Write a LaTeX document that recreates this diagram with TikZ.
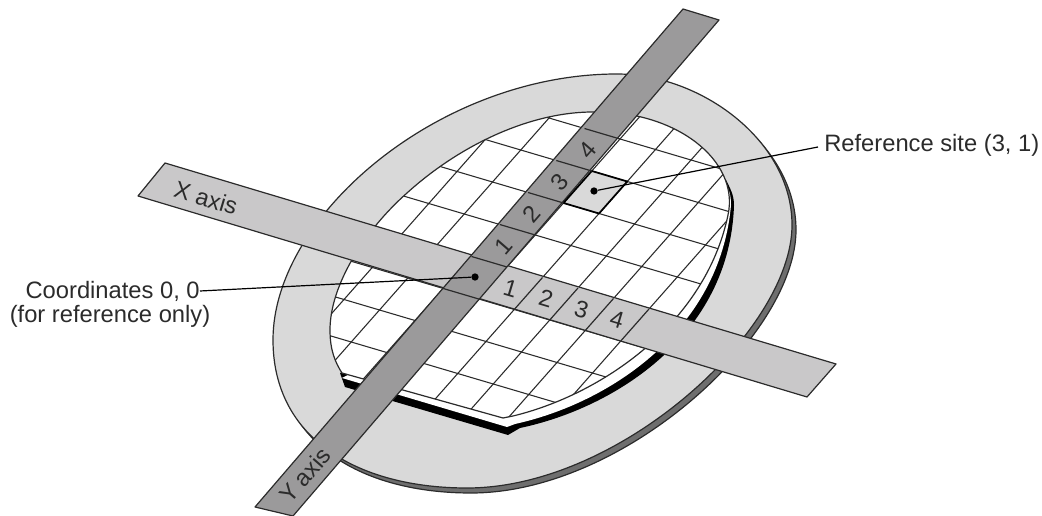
\documentclass[tikz,border=0pt]{standalone}
\usepackage{fontspec}
\setmainfont{Liberation Sans}
\newcommand{\ringedge}{(617,74) .. controls (700,74) and (792,140) .. (792,225) .. controls (792,330) and (620,488) .. (467,488) .. controls (360,488) and (273,440) .. (273,340) .. controls (273,215) and (440,74) .. (617,74) -- cycle}
\newcommand{\blackedge}{(340,373) -- (345,387) -- (508,435) -- (520,428) .. controls (615,408) and (730,335) .. (734,205) .. controls (734,195) and (730,188) .. (726,180) -- cycle}
\newcommand{\whiteedge}{(342,378) -- (507,427) -- (515,424) .. controls (610,403) and (720,330) .. (731,205) .. controls (731,195) and (729,190) .. (726,183) -- cycle}
\newcommand{\waferedge}{(342,373) -- (503,418) -- (513,416) .. controls (600,395) and (705,325) .. (728,215) .. controls (740,160) and (675,110) .. (593,112) .. controls (530,112) and (460,145) .. (407,193) .. controls (365,230) and (330,285) .. (330,330) .. controls (330,350) and (335,362) .. (342,373) -- cycle}
\definecolor{ringgray}{HTML}{D9D9D9}
\definecolor{rimgray}{HTML}{6E6E6E}
\definecolor{xgray}{HTML}{C9C8C9}
\definecolor{ygray}{HTML}{9B9A9B}
\definecolor{inkgray}{HTML}{2B2B2B}
\begin{document}
\begin{tikzpicture}[
    x=0.75pt, y=-0.75pt,
    outline/.style={draw=inkgray, line width=0.9pt, line join=round},
    gridline/.style={draw=inkgray, line width=0.8pt},
    sitebox/.style={draw=black, line width=1.3pt, fill=ringgray, line join=round},
    leader/.style={draw=black, line width=0.9pt},
    leaderdot/.style={circle, fill=black, inner sep=0pt, minimum size=5.5pt},
    label/.style={font=\fontsize{17.8}{20}\selectfont, text=inkgray, inner sep=0pt},
    number/.style={font=\fontsize{17.8}{20}\selectfont, text=inkgray, inner sep=0pt}
]
    \useasboundingbox (0,0) rectangle (1042,516);

    \draw[outline, fill=rimgray, shift={(4,5)}] \ringedge;
    \draw[outline, fill=ringgray] \ringedge;
    \fill[black] \blackedge;
    \fill[white] \whiteedge;
    \fill[white] \waferedge;

    \begin{scope}
        \clip \waferedge;
        \begin{scope}[shift={(507,267)}, x={(26.625pt,-7.875pt)}, y={(21.19pt,24pt)}]
            \foreach \j in {-10,...,10}
                \draw[gridline] (-14,\j) -- (14,\j);
            \foreach \i in {-14,...,14}
                \draw[gridline] (\i,-10) -- (\i,10);
        \end{scope}
    \end{scope}
    \draw[outline] \waferedge;

    \draw[outline, fill=xgray] (165,163) -- (836,364) -- (807,397) -- (138,196) -- cycle;
    \draw[outline, fill=ygray] (683,9) -- (719,20) -- (293,516) -- (255,507) -- cycle;

    \begin{scope}[shift={(507,267)}, x={(26.625pt,-7.875pt)}, y={(21.19pt,24pt)}]
        \draw[sitebox] (0,2) -- (1,2) -- (1,3) -- (0,3) -- cycle;
        \draw[outline] (0,0) -- (-1,0);
        \draw[outline] (0,-1) -- (-1,-1);
        \foreach \n in {1,...,4} {
            \draw[outline] (\n,0) -- (\n,-1);
            \draw[outline] (0,\n) -- (-1,\n);
            \node[number, rotate=-16.7] (xnum\n) at (\n-0.5,-0.5) {\n};
            \node[number, rotate=49] (ynum\n) at (-0.5,\n-0.5) {\n};
        }
    \end{scope}

    \node[label, rotate=-16.7] (xaxis) at (206,198) {X axis};
    \node[label, rotate=49] (yaxis) at (305,475) {Y axis};

    \node[label, anchor=east] (coordlabel) at (200,291) {Coordinates 0, 0};
    \node[label] (coordnote) at (110,316) {(for reference only)};
    \node[label, anchor=west] (sitelabel) at (824,145) {Reference site (3, 1)};
    \node[leaderdot] (origindot) at (475,277) {};
    \node[leaderdot] (sitedot) at (594,191) {};
    \coordinate (siteend) at (818,147);

    \draw[leader] (coordlabel.east) -- (origindot);
    \draw[leader] (siteend) -- (sitedot);
\end{tikzpicture}
\end{document}
